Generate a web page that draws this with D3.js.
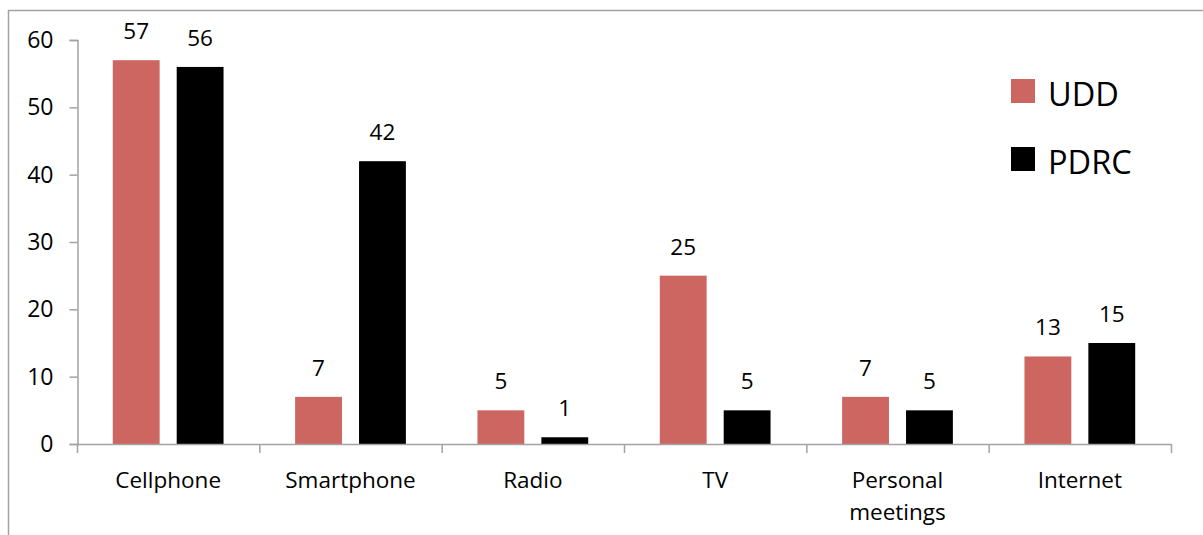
<!DOCTYPE html>
<html>
<head>
<meta charset="utf-8">
<script src="https://cdn.jsdelivr.net/npm/d3@7"></script>
<style>
  body { margin: 0; background: #fff; }
  svg { display: block; font-family: "Open Sans", sans-serif; }
</style>
</head>
<body>
<svg id="chart" width="1203" height="535"></svg>
<script>
// data
const categories = ["Cellphone", "Smartphone", "Radio", "TV", "Personal meetings", "Internet"]
const seriesNames = ["UDD", "PDRC"]
const udd = [57, 7, 5, 25, 7, 13]
const pdrc = [56, 42, 1, 5, 5, 15]
const yTicks = [0, 10, 20, 30, 40, 50, 60]
const colors = { UDD: "#cd6660", PDRC: "#000000" }

const svg = d3.select("#chart")
const axisColor = "#a3a3a3"

// outer border of the chart area (runs off the right and bottom)
svg.append("path")
  .attr("d", "M8.5,540 V10.5 H1210")
  .attr("fill", "none").attr("stroke", axisColor).attr("stroke-width", 1.5)

var y = d3.scaleLinear().domain([0, 60]).range([444, 40])
var x = d3.scaleBand().domain(categories).range([77, 1171])
var xs = d3.scaleBand().domain(seriesNames).range([0, x.bandwidth()])
  .paddingInner(0.267).paddingOuter(0.56)

// y axis
var yAxis = svg.append("g").attr("transform", "translate(77.5,0)")
  .call(d3.axisLeft(y).tickValues(yTicks).tickSize(8).tickPadding(16).tickFormat(d3.format("d")))
yAxis.select(".domain").attr("stroke", axisColor).attr("stroke-width", 1.5)
yAxis.selectAll(".tick line").attr("stroke", axisColor).attr("stroke-width", 1.5)
yAxis.selectAll(".tick text").attr("fill", "#000").style("font-size", "23px")
  .style("font-family", "'Open Sans', sans-serif")

// bars
var rows = categories.map((c, i) => ({ cat: c, UDD: udd[i], PDRC: pdrc[i] }))
var groups = svg.append("g").selectAll("g").data(rows).join("g")
  .attr("transform", d => "translate(" + x(d.cat) + ",0)")

groups.selectAll("rect").data(d => seriesNames.map(s => ({ s: s, v: d[s] }))).join("rect")
  .attr("x", d => xs(d.s))
  .attr("y", d => y(d.v))
  .attr("width", xs.bandwidth())
  .attr("height", d => y(0) - y(d.v))
  .attr("fill", d => colors[d.s])

groups.selectAll("text.val").data(d => seriesNames.map(s => ({ s: s, v: d[s] }))).join("text")
  .attr("class", "val")
  .attr("x", d => xs(d.s) + xs.bandwidth() / 2)
  .attr("y", d => y(d.v) - 21)
  .attr("text-anchor", "middle")
  .style("font-size", "22.5px")
  .text(d => d.v)

// x axis: line plus ticks at category boundaries
var xAxis = svg.append("g")
xAxis.append("line")
  .attr("x1", 77).attr("x2", 1171).attr("y1", y(0) + 0.5).attr("y2", y(0) + 0.5)
  .attr("stroke", axisColor).attr("stroke-width", 1.5)
var bounds = categories.map(c => x(c)).concat([x.range()[1]])
xAxis.selectAll("line.tk").data(bounds).join("line")
  .attr("class", "tk")
  .attr("x1", d => d + 0.5).attr("x2", d => d + 0.5)
  .attr("y1", y(0)).attr("y2", y(0) + 9)
  .attr("stroke", axisColor).attr("stroke-width", 1.5)

var labels = xAxis.selectAll("text").data(categories).join("text")
  .attr("x", d => x(d) + x.bandwidth() / 2)
  .attr("y", 488)
  .attr("text-anchor", "middle")
  .style("font-size", "22.5px")

labels.each(function (d) {
  var words = d.split(" ")
  var t = d3.select(this)
  if (words.length > 1) {
    words.forEach((w, i) => {
      t.append("tspan").attr("x", x(d) + x.bandwidth() / 2).attr("dy", i ? 32 : 0).text(w)
    })
  } else {
    t.text(d)
  }
})

// legend
var legend = svg.append("g").selectAll("g").data(seriesNames).join("g")
  .attr("transform", (d, i) => "translate(1011," + (79 + i * 68) + ")")
legend.append("rect").attr("width", 24).attr("height", 24).attr("fill", d => colors[d])
legend.append("text").attr("x", 37).attr("y", 27).style("font-size", "32.5px").text(d => d)
</script>
</body>
</html>
